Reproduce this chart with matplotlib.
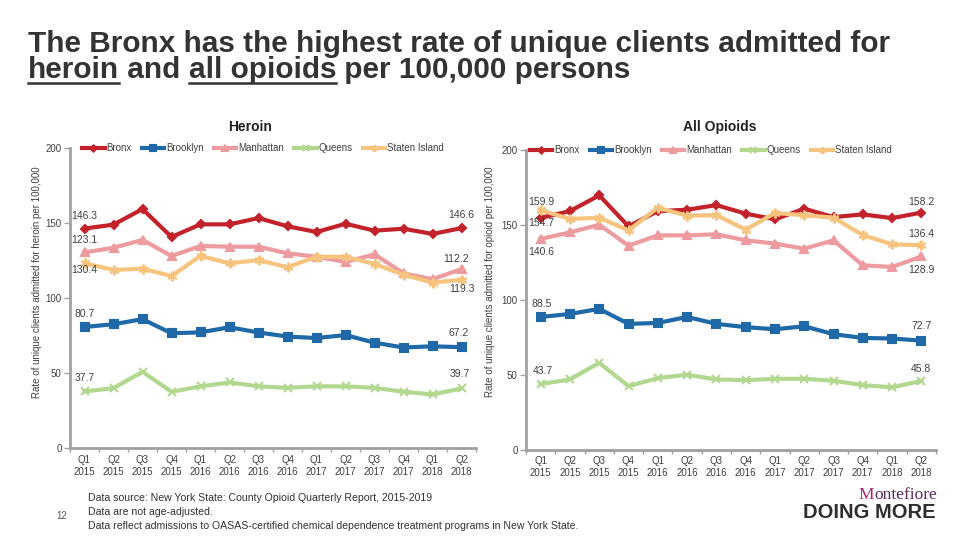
import matplotlib.pyplot as plt

plt.rcParams['font.family'] = ['Liberation Sans', 'DejaVu Sans']

quarters = ["Q1\n2015", "Q2\n2015", "Q3\n2015", "Q4\n2015", "Q1\n2016", "Q2\n2016", "Q3\n2016",
            "Q4\n2016", "Q1\n2017", "Q2\n2017", "Q3\n2017", "Q4\n2017", "Q1\n2018", "Q2\n2018"]
boroughs = ["Bronx", "Brooklyn", "Manhattan", "Queens", "Staten Island"]

# heroin rate per 100,000
heroin_bronx = [146.3, 148.9, 159.3, 140.7, 149.1, 149.1, 153.3, 147.8, 144.0, 149.5, 144.9, 146.2, 142.7, 146.6]
heroin_brooklyn = [80.7, 82.5, 85.9, 76.5, 77.1, 80.5, 77.0, 74.3, 73.3, 75.3, 70.2, 67.0, 67.8, 67.2]
heroin_manhattan = [130.4, 133.5, 138.7, 128.0, 134.7, 134.2, 134.2, 129.8, 127.5, 124.0, 129.1, 116.5, 112.5, 119.3]
heroin_queens = [37.7, 39.9, 50.8, 37.5, 41.1, 43.7, 41.1, 40.1, 41.1, 41.1, 40.1, 37.5, 35.7, 39.7]
heroin_staten = [123.1, 118.7, 119.5, 114.7, 128.0, 123.1, 125.3, 120.5, 127.5, 127.5, 122.7, 115.5, 110.2, 112.2]

# all opioids rate per 100,000
opioid_bronx = [154.7, 159.2, 169.7, 149.0, 159.2, 160.1, 163.2, 157.5, 153.7, 160.8, 155.2, 157.0, 154.5, 158.2]
opioid_brooklyn = [88.5, 90.5, 93.9, 83.9, 84.5, 88.5, 83.9, 81.7, 80.3, 82.3, 77.0, 74.5, 74.1, 72.7]
opioid_manhattan = [140.6, 145.0, 150.1, 136.1, 143.0, 143.0, 143.7, 139.7, 137.5, 134.1, 139.7, 123.0, 121.9, 128.9]
opioid_queens = [43.7, 46.8, 57.9, 42.3, 47.7, 49.9, 46.8, 46.3, 47.2, 47.2, 45.9, 43.0, 41.5, 45.8]
opioid_staten = [159.9, 153.9, 154.8, 146.3, 161.5, 156.1, 156.5, 146.8, 157.9, 156.5, 154.8, 143.2, 137.0, 136.4]

heroin = [heroin_bronx, heroin_brooklyn, heroin_manhattan, heroin_queens, heroin_staten]
opioid = [opioid_bronx, opioid_brooklyn, opioid_manhattan, opioid_queens, opioid_staten]

# data labels as shown: (series index, point index, text)
heroin_labels = [(0, 0, "146.3"), (0, 13, "146.6"), (2, 0, "123.1"), (4, 0, "130.4"),
                 (2, 13, "112.2"), (4, 13, "119.3"), (1, 0, "80.7"), (1, 13, "67.2"),
                 (3, 0, "37.7"), (3, 13, "39.7")]
opioid_labels = [(4, 0, "159.9"), (0, 0, "154.7"), (2, 0, "140.6"), (0, 13, "158.2"),
                 (4, 13, "136.4"), (2, 13, "128.9"), (1, 0, "88.5"), (1, 13, "72.7"),
                 (3, 0, "43.7"), (3, 13, "45.8")]
# label offsets in pixels
heroin_off = [(0, 13), (0, 13), (0, 12), (0, -7), (-5, 10), (0, -9), (0, 13), (-3, 14), (0, 13), (-2, 14)]
opioid_off = [(1, 8), (1, -5), (1, -13), (0, 11), (0, 11), (0, -14), (1, 13), (0, 15), (2, 13), (0, 12)]

colors = ["#C3222B", "#1F69A8", "#EE9BA0", "#B2D890", "#F7C47F"]
markers = ["D", "s", "^", "x", (6, 2, 0)]
msizes = [4.5, 6, 6, 6, 7]
grey = "#404040"
title_col = "#333333"

fig = plt.figure(figsize=(9.6, 5.4), dpi=100)
ax1 = fig.add_axes([70 / 960, 1 - 448 / 540, 406 / 960, 300 / 540])
ax2 = fig.add_axes([526 / 960, 1 - 449.5 / 540, 410 / 960, 299.5 / 540])

x = list(range(len(quarters)))


def draw(ax, data, labels, offs, legx):
    for i, name in enumerate(boroughs):
        ax.plot(x, data[i], color=colors[i], lw=3, marker=markers[i], ms=msizes[i],
                mew=1.5, mec=colors[i], label=name)
    for (s, p, t), (dx, dy) in zip(labels, offs):
        ax.annotate(t, (x[p], data[s][p]), xytext=(dx, dy), textcoords="offset pixels",
                    ha="center", va="center", fontsize=7.5, color=grey)
    ax.set_xlim(-0.5, len(quarters) - 0.5)
    ax.set_ylim(0, 200)
    ax.set_yticks([0, 50, 100, 150, 200])
    ax.set_xticks(x)
    ax.set_xticklabels(quarters)
    ax.set_xticks([v + 0.5 for v in x[:-1]] + [-0.5, len(quarters) - 0.5], minor=True)
    ax.tick_params(axis="x", which="major", length=0, labelsize=7, labelcolor=grey, pad=5)
    ax.tick_params(axis="x", which="minor", length=3, color="#A0A0A0", width=1)
    ax.tick_params(axis="y", length=4, color="#A0A0A0", width=1, labelsize=7, labelcolor=grey, pad=2)
    for sp in ["top", "right"]:
        ax.spines[sp].set_visible(False)
    for sp in ["left", "bottom"]:
        ax.spines[sp].set_color("#A0A0A0")
        ax.spines[sp].set_linewidth(2)
    ax.legend(ncol=5, loc="center left", bbox_to_anchor=(legx, 1.0), frameon=False,
              fontsize=7, handlelength=2.3, handletextpad=0.2, columnspacing=1.05,
              borderpad=0, borderaxespad=0, markerscale=0.7, labelcolor=grey)


draw(ax1, heroin, heroin_labels, heroin_off, 0.03)
draw(ax2, opioid, opioid_labels, opioid_off, 0.01)

fig.text(37 / 960, 1 - 282 / 540, "Rate of unique clients admitted for heroin per 100,000",
         rotation=90, ha="center", va="center", fontsize=7, color=grey)
fig.text(490 / 960, 1 - 282 / 540, "Rate of unique clients admitted for opioid per 100,000",
         rotation=90, ha="center", va="center", fontsize=7, color=grey)

fig.text(250 / 960, 1 - 127 / 540, "Heroin", ha="center", va="center", fontsize=10,
         fontweight="bold", color="#222222")
fig.text(720 / 960, 1 - 127 / 540, "All Opioids", ha="center", va="center", fontsize=10,
         fontweight="bold", color="#222222")

# title, second line built in pieces so two phrases can be underlined
tsize = 21.4
fig.text(28 / 960, 1 - 52.5 / 540, "The Bronx has the highest rate of unique clients admitted for",
         ha="left", va="baseline", fontsize=tsize, fontweight="bold", color=title_col)
renderer = fig.canvas.get_renderer()
xpos = 28 / 960
ybase = 1 - 78.5 / 540
for piece, under in [("heroin", True), (" and ", False), ("all opioids", True), (" per 100,000 persons", False)]:
    t = fig.text(xpos, ybase, piece, ha="left", va="baseline", fontsize=tsize,
                 fontweight="bold", color=title_col)
    bb = t.get_window_extent(renderer).transformed(fig.transFigure.inverted())
    if under:
        fig.add_artist(plt.Line2D([bb.x0, bb.x1], [ybase - 4.5 / 540] * 2, color=title_col, lw=1.8,
                                  transform=fig.transFigure))
    xpos = bb.x1

# footer
foot = ["Data source: New York State: County Opioid Quarterly Report, 2015-2019",
        "Data are not age-adjusted.",
        "Data reflect admissions to OASAS-certified chemical dependence treatment programs in New York State."]
for i, line in enumerate(foot):
    fig.text(88 / 960, 1 - (498 + 14 * i) / 540, line, ha="left", va="center", fontsize=7.6, color="#333333")
fig.text(62 / 960, 1 - 516 / 540, "12", ha="center", va="center", fontsize=7, color="#555555")

# logo text
rest = fig.text(937 / 960, 1 - 495 / 540, "ontefiore", ha="right", va="center", fontsize=12.5,
                family="Liberation Serif", color="#5A2A5C")
rb = rest.get_window_extent(renderer).transformed(fig.transFigure.inverted())
fig.text(rb.x0, 1 - 495 / 540, "M", ha="right", va="center", fontsize=12.5,
         family="Liberation Serif", color="#B0226A")
fig.text(936 / 960, 1 - 513 / 540, "DOING MORE", ha="right", va="center", fontsize=14.5,
         fontweight="bold", color="#2E2E2E")

fig.savefig("out.png", dpi=100)
